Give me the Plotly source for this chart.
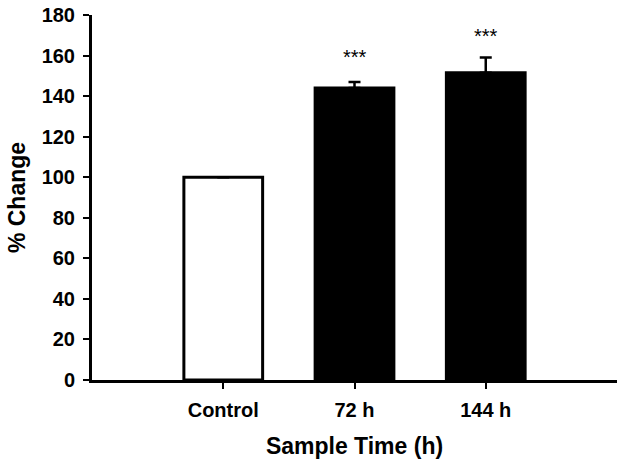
import plotly.graph_objects as go

categories = ["Control", "72 h", "144 h"]
values = [100, 144, 151.5]
errors_up = [0, 3, 7.5]
fills = ["white", "black", "black"]
sig_labels = ["", "***", "***"]
sig_y = [None, 159.5, 169.5]

FONT = "Arial, Liberation Sans, sans-serif"

fig = go.Figure()
fig.add_trace(go.Bar(
    x=categories, y=values, width=0.6,
    marker=dict(color=fills, line=dict(color="black", width=3)),
    error_y=dict(type="data", array=errors_up, arrayminus=[0, 0, 0], symmetric=False,
                 color="black", thickness=2.5, width=6),
))

for c, lab, yy in zip(categories, sig_labels, sig_y):
    if lab:
        fig.add_annotation(x=c, y=yy, text=lab, showarrow=False,
                           font=dict(family=FONT, size=20, color="black", weight="normal"))

fig.update_layout(
    width=625, height=466,
    margin=dict(l=92, r=8, t=15, b=86),
    plot_bgcolor="white", paper_bgcolor="white",
    showlegend=False,
    font=dict(family=FONT, color="black", size=20, weight="bold"),
)
fig.update_xaxes(
    range=[-1, 3], showline=True, linecolor="black", linewidth=3,
    ticks="outside", ticklen=6, tickwidth=2, tickcolor="black",
    tickfont=dict(size=20, weight="bold"), ticklabelstandoff=4,
    title=dict(text="Sample Time (h)", font=dict(size=23, weight="bold"), standoff=18),
    showgrid=False, zeroline=False, automargin=False,
)
fig.update_yaxes(
    range=[0, 180], dtick=20, showline=True, linecolor="black", linewidth=3,
    ticks="outside", ticklen=6, tickwidth=2, tickcolor="black",
    tickfont=dict(size=20, weight="bold"), ticklabelstandoff=4,
    title=dict(text="% Change", font=dict(size=23, weight="bold"), standoff=10),
    showgrid=False, zeroline=False, automargin=False,
)

fig.write_html("out.html", config={"displayModeBar": False},
               post_script="document.body.style.margin='0';")
